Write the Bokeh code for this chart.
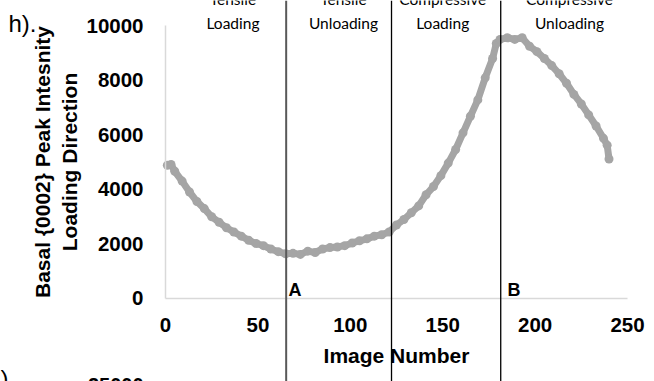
from bokeh.plotting import figure
from bokeh.models import Range1d, FixedTicker, Label, Span
from bokeh.embed import file_html
from bokeh.resources import INLINE

# Basal {0002} peak intensity along the loading direction, per image
image_number = [1, 3, 5, 9, 13, 17, 21, 25, 29, 33, 37, 41, 45, 49, 53, 57, 61,
                65, 69, 73, 77, 81, 85, 89, 93, 97, 101, 105, 109, 113, 117, 121,
                125, 129, 133, 137, 141, 145, 149, 153, 157, 161, 165, 169, 173,
                177, 179, 181, 185, 189, 193, 197, 201, 205, 209, 213, 217, 221,
                225, 229, 233, 237, 239, 240]
intensity = [4870, 4900, 4650, 4290, 3890, 3540, 3280, 2980, 2780, 2580, 2420,
             2270, 2120, 2000, 1920, 1800, 1700, 1620, 1640, 1600, 1720, 1670,
             1800, 1850, 1870, 1920, 2020, 2100, 2170, 2270, 2320, 2420, 2680,
             2880, 3130, 3380, 3790, 4090, 4490, 4950, 5450, 6060, 6670, 7270,
             8080, 8790, 9340, 9490, 9550, 9490, 9550, 9240, 9040, 8790, 8530,
             8230, 7880, 7470, 7120, 6720, 6310, 5860, 5610, 5100]

# Phase boundaries (image number) and the phase captions between them
boundaries = [65.3, 122.3, 181.4]
boundary_colors = ["#595959", "#000000", "#000000"]
boundary_widths = [2.0, 1.3, 1.3]
phase_centers = [36.5, 96.3, 150.0, 218.6]
phase_line1 = ["Tensile", "Tensile", "Compressive", "Compressive"]
phase_line2 = ["Loading", "Unloading", "Loading", "Unloading"]

# Turning points
point_x = [66.6, 185.0]
point_names = ["A", "B"]

x_ticks = [0, 50, 100, 150, 200, 250]
y_ticks = [0, 2000, 4000, 6000, 8000, 10000]

W, H = 654, 381
# Plotting area in pixels: x 0..250 -> 165..627, y 0..10000 -> 297.5..25
X0_PX, X1_PX = 165.0, 627.0
Y0_PX, Y1_PX = 297.5, 25.0
xs = 250.0 / (X1_PX - X0_PX)
ys = 10000.0 / (Y0_PX - Y1_PX)
x_range = Range1d(-X0_PX * xs, (W - X0_PX) * xs)
y_range = Range1d(-(H - Y0_PX) * ys, Y0_PX * ys)

p = figure(width=W, height=H, output_backend="svg", toolbar_location=None,
           x_range=x_range, y_range=y_range,
           min_border_left=0, min_border_right=0, min_border_top=0,
           min_border_bottom=0)
p.outline_line_color = None
p.grid.visible = False
p.background_fill_color = "white"
p.border_fill_color = "white"

for ax in (p.xaxis[0], p.yaxis[0]):
    ax.fixed_location = 0
    ax.axis_line_color = "#d9d9d9"
    ax.axis_line_width = 1.5
    ax.major_tick_line_color = None
    ax.minor_tick_line_color = None
    ax.major_label_text_font = "Liberation Sans"
    ax.major_label_text_font_style = "bold"
    ax.major_label_text_font_size = "20.5px"
    ax.major_label_text_color = "#000000"
    ax.axis_label_text_font = "Liberation Sans"
    ax.axis_label_text_font_style = "bold"
    ax.axis_label_text_font_size = "21px"
    ax.axis_label_text_color = "#000000"

p.xaxis.bounds = (0, 250)
p.yaxis.bounds = (0, 10000)
p.xaxis.ticker = FixedTicker(ticks=x_ticks)
p.yaxis.ticker = FixedTicker(ticks=y_ticks)
p.xaxis.major_label_standoff = 14
p.yaxis.major_label_standoff = 16
p.xaxis.axis_label = "Image Number"
p.xaxis.axis_label_standoff = 8
p.yaxis.axis_label = "Basal {0002} Peak Intesnity\nLoading Direction"
p.yaxis.axis_label_standoff = 2
p.yaxis.axis_label_text_line_height = 1.2

# Intensity trace: thick grey line with round markers
p.line(image_number, intensity, line_color="#a5a5a5", line_width=7)
p.scatter(image_number, intensity, size=9, fill_color="#a5a5a5",
          line_color=None)

# Phase boundaries running the full height of the figure
for bx, bc, bw in zip(boundaries, boundary_colors, boundary_widths):
    p.add_layout(Span(location=bx, dimension="height", line_color=bc,
                      line_width=bw))

# Phase captions above the plot
for cx, t1, t2 in zip(phase_centers, phase_line1, phase_line2):
    p.add_layout(Label(x=cx, y=10000, y_offset=27, text=t1, text_align="center",
                       text_baseline="alphabetic", text_font="Lato",
                       text_font_size="15.5px", text_color="#000000"))
    p.add_layout(Label(x=cx, y=10000, y_offset=3, text=t2, text_align="center",
                       text_baseline="alphabetic", text_font="Lato",
                       text_font_size="15.5px", text_color="#000000"))

# Turning point markers
for px, name in zip(point_x, point_names):
    p.add_layout(Label(x=px, y=0, y_offset=8, text=name, text_align="left",
                       text_baseline="alphabetic", text_font="Liberation Sans",
                       text_font_style="bold", text_font_size="18px",
                       text_color="#000000"))

# Panel letter, and the top of the panel below
p.add_layout(Label(x=0, y=10000, x_offset=-157, y_offset=2, text="h).",
                   text_baseline="alphabetic", text_font="Liberation Sans",
                   text_font_size="24px", text_color="#000000"))
p.add_layout(Label(x=0, y=0, x_offset=-165, y_offset=-67, text=")",
                   text_baseline="top", text_font="Liberation Sans",
                   text_font_size="24px", text_color="#000000"))
p.add_layout(Label(x=0, y=0, x_offset=-22, y_offset=-80, text="25000",
                   text_align="right", text_baseline="top",
                   text_font="Liberation Sans", text_font_style="bold",
                   text_font_size="20px", text_color="#000000"))

open("out.html", "w").write(file_html(p, INLINE))
